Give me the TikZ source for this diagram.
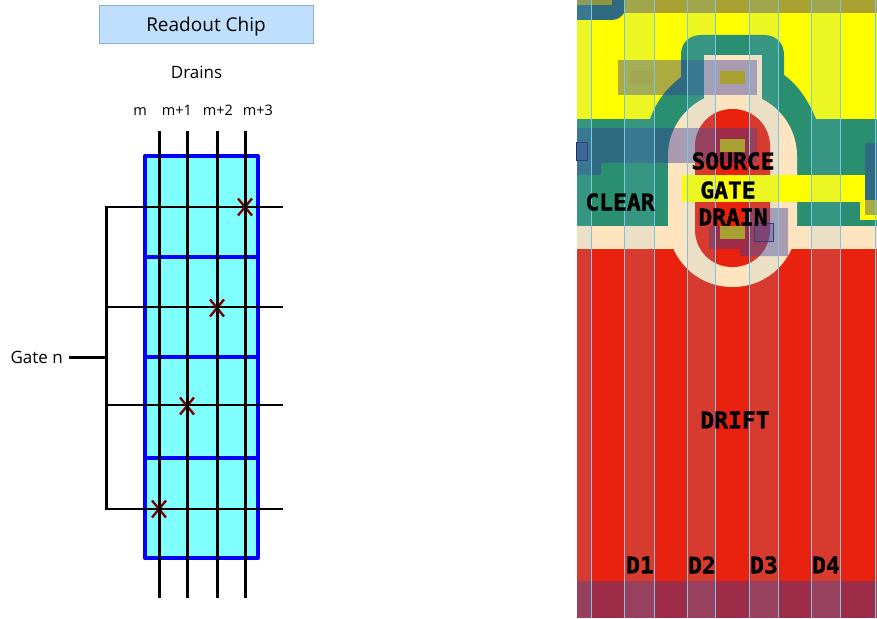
\documentclass[tikz,border=0pt]{standalone}
\usepackage{fontspec}
\setmainfont{Open Sans}
\newfontfamily\pixfont[BoldFeatures={FakeBold=1.2}]{DejaVu Sans Mono}
\definecolor{teal1}{HTML}{2A8F70}
\definecolor{cream}{HTML}{FFE4C0}
\definecolor{chipred}{HTML}{E8220E}
\definecolor{yel}{HTML}{FFFF00}
\definecolor{olive}{HTML}{A8A030}
\definecolor{metal}{HTML}{38389A}
\definecolor{drainblue}{HTML}{7CC4E8}
\definecolor{cell}{HTML}{80FFFF}
\definecolor{chipfill}{HTML}{C0DFFD}
\definecolor{chipline}{HTML}{8FAFCF}
\definecolor{crossred}{HTML}{800000}
\tikzset{
  x=1pt,y=-1pt,
  chipbox/.style={draw=chipline,fill=chipfill,line width=.8pt,minimum width=214pt,minimum height=38pt,inner sep=0pt,text height=20pt,text depth=4pt,font=\fontsize{19}{19}\selectfont},
  lab/.style={inner sep=0pt,font=\fontsize{17}{17}\selectfont},
  lab2/.style={inner sep=0pt,text height=12pt,text depth=2pt,font=\fontsize{14.5}{15}\selectfont},
  pix/.style={inner sep=0pt,text=black,font=\pixfont\bfseries\fontsize{23}{23}\selectfont},
  drainw/.style={draw=black,line width=3pt},
  gatew/.style={draw=black,line width=2.2pt},
  roww/.style={draw=blue,line width=4pt},
  crossm/.style={draw=crossred,line width=2.4pt},
  metalr/.style={fill=metal,fill opacity=.42},
  strip/.style={fill=drainblue,fill opacity=.15},
  stripline/.style={draw=drainblue,line width=1pt},
  contact/.style={fill=olive}
}
\begin{document}
\begin{tikzpicture}
\useasboundingbox (0,0) rectangle (877,618);
\fill[white] (0,0) rectangle (877,618);
% ---- left: schematic
\node[chipbox] (chip) at (206,24) {Readout Chip};
\node[lab] (drains) at (196.5,72.5) {Drains};
\node[lab2] (lm0) at (140,110) {m};
\node[lab2] (lm1) at (177,110) {m+1};
\node[lab2] (lm2) at (218,110) {m+2};
\node[lab2] (lm3) at (258,110) {m+3};
\node[lab,anchor=east] (gaten) at (63,357) {Gate n};
\draw[roww,fill=cell,line join=round] (145,156) rectangle (258,558);
\coordinate (r1l) at (145,257); \coordinate (r1r) at (258,257);
\coordinate (r2l) at (145,357); \coordinate (r2r) at (258,357);
\coordinate (r3l) at (145,458); \coordinate (r3r) at (258,458);
\draw[roww] (r1l) -- (r1r);
\draw[roww] (r2l) -- (r2r);
\draw[roww] (r3l) -- (r3r);
\foreach \n/\y in {a/207,b/307,c/405,d/509}{
  \coordinate (gl\n) at (105,\y); \coordinate (gr\n) at (283,\y);
  \draw[gatew] (gl\n) -- (gr\n);
}
\foreach \x/\y in {245/207,217/308,187/406,159/509}{
  \draw[crossm] (\x-7,\y-8.5) -- (\x+7,\y+8.5);
  \draw[crossm] (\x+7,\y-8.5) -- (\x-7,\y+8.5);
}
\foreach \n/\x in {0/159,1/187,2/217,3/245}{
  \coordinate (dt\n) at (\x,131); \coordinate (db\n) at (\x,598);
  \draw[drainw] (dt\n) -- (db\n);
}
\coordinate (bust) at (106,206); \coordinate (busb) at (106,510);
\draw[draw=black,line width=3pt] (bust) -- (busb);
\coordinate (stubl) at (69,357); \coordinate (stubr) at (108,357);
\draw[draw=black,line width=3pt] (stubl) -- (stubr);
% ---- right: layout
\fill[yel] (577,0) rectangle (877,119);
\fill[olive] (577,0) rectangle (877,13);
\fill[teal1] (577,119) -- (650,119) .. controls (657,100) and (667,88) .. (681,77)
  -- (681,55) .. controls (681,43) and (689,35) .. (701,35) -- (764,35)
  .. controls (776,35) and (784,43) .. (784,55) -- (784,75)
  .. controls (798,85) and (808,100) .. (816,119) -- (877,119) -- (877,226) -- (577,226) -- cycle;
\fill[cream] (577,226) rectangle (877,249);
\fill[chipred] (577,249) rectangle (877,618);
\fill[cream,rounded corners=64pt] (668,92) rectangle (797,287);
\fill[cream] (704,55) rectangle (762,100);
\fill[chipred,rounded corners=37pt] (695,109) rectangle (770,267);
\fill[yel] (682,175) -- (865,175) -- (865,202) -- (682,202) -- cycle;
\fill[yel] (860,200) rectangle (877,220);
\fill[teal1] (860,220) rectangle (877,226);
% metal
\fill[metalr] (618,60) rectangle (757,95);
\fill[metalr] (577,128) rectangle (757,163);
\fill[metalr] (577,163) rectangle (601,175);
\fill[teal1] (577,0) -- (625,0) -- (625,8) .. controls (625,16) and (618,20) .. (610,20) -- (577,20) -- cycle;
\fill[metalr] (577,0) -- (625,0) -- (625,8) .. controls (625,16) and (618,20) .. (610,20) -- (577,20) -- cycle;
\fill[metalr] (745,208) -- (788,208) -- (788,256) -- (740,256) -- (740,249) -- (709,249) -- (709,226) -- (745,226) -- cycle;
\fill[metalr] (865,143) rectangle (877,215);
\fill[metal,opacity=.42] (577,581) rectangle (877,618);
% contacts
\fill[contact] (720,71) rectangle (745,84);
\fill[contact,fill opacity=.55] (630,71) rectangle (655,84);
\fill[contact] (720,139) rectangle (745,152);
\fill[contact] (720,226) rectangle (745,239);
\fill[contact,opacity=.8] (577,0) rectangle (612,5);
\draw[metal!70!black,line width=.7pt,fill=metal,fill opacity=.3] (754,223) rectangle (773,241);
\draw[metal!70!black,line width=.7pt,fill=metal,fill opacity=.3] (576,142) rectangle (587,160);
% drains strips
\fill[strip] (577,0) rectangle (591,618);
\fill[strip] (624,0) rectangle (654,618);
\fill[strip] (687,0) rectangle (715,618);
\fill[strip] (749,0) rectangle (778,618);
\fill[strip] (811,0) rectangle (840,618);
\fill[strip] (875,0) rectangle (877,618);
\foreach \x in {591,624,654,687,715,749,778,811,840,875}{
  \draw[stripline] (\x,0) -- (\x,618);
}
% labels
\node[pix] (src) at (733,161) {SOURCE};
\node[pix] (gate) at (728,190) {GATE};
\node[pix] (drn) at (733,217) {DRAIN};
\node[pix] (clr) at (620,202) {CLEAR};
\node[pix] (dft) at (735,420) {DRIFT};
\node[pix] (d1) at (640,565) {D1};
\node[pix] (d2) at (702,565) {D2};
\node[pix] (d3) at (764,565) {D3};
\node[pix] (d4) at (826,565) {D4};
\end{tikzpicture}
\end{document}
